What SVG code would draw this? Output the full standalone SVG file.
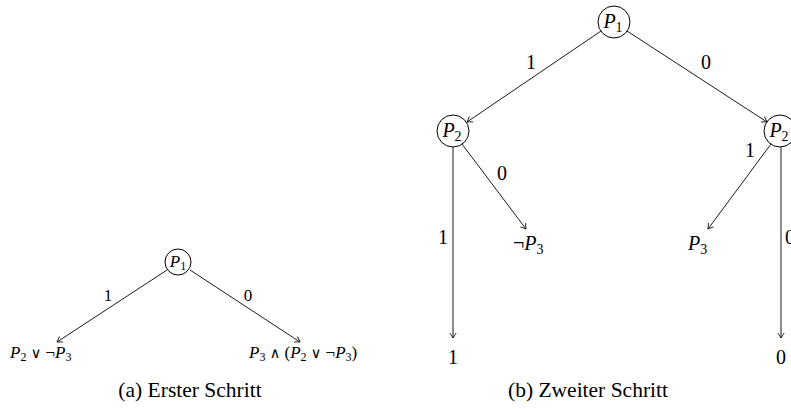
<svg xmlns="http://www.w3.org/2000/svg" width="791" height="409" viewBox="0 0 791 409">
<style>
.n{fill:#fff;stroke:#000;stroke-width:1}
.e{stroke:#000;stroke-width:0.9;fill:none;marker-end:url(#ah)}
text{font-family:"Liberation Serif","DejaVu Serif","Times New Roman",serif;fill:#000}
.m{font-style:italic}
.a{font-size:17px}
.b{font-size:20px}
.sa{font-size:12px}
.sb{font-size:14px}
.o{font-family:"DejaVu Serif",serif;font-weight:normal;font-size:0.85em}
.c{font-size:21.5px}
</style>
<defs>
<marker id="ah" viewBox="-6 -4 7 8" refX="0" refY="0" markerWidth="7" markerHeight="8" orient="auto" markerUnits="userSpaceOnUse">
<path d="M-5,-3.2 Q-1.5,-0.8 0,0 Q-1.5,0.8 -5,3.2" fill="none" stroke="#000" stroke-width="0.8"/>
</marker>
</defs>
<rect width="791" height="409" fill="#fff"/>
<g id="connectors">
<line class="e" x1="167" y1="270" x2="57" y2="342"/>
<line class="e" x1="190" y1="270" x2="300" y2="342"/>
<line class="e" x1="601" y1="31" x2="467" y2="122"/>
<line class="e" x1="627" y1="31" x2="767" y2="122"/>
<line class="e" x1="453" y1="147" x2="453" y2="338"/>
<line class="e" x1="462" y1="144" x2="526" y2="229"/>
<line class="e" x1="771" y1="144" x2="708" y2="229"/>
<line class="e" x1="781" y1="147" x2="781" y2="338"/>
</g>
<g id="edge-labels" text-anchor="middle">
<text x="108" y="301" class="a">1</text>
<text x="248" y="301" class="a">0</text>
<text x="531" y="69" class="b">1</text>
<text x="706" y="69" class="b">0</text>
<text x="443" y="244" class="b">1</text>
<text x="502" y="180" class="b">0</text>
<text x="750" y="157" class="b">1</text>
<text x="785" y="244" class="b" text-anchor="start">0</text>
</g>
<g id="a-P1"><circle class="n" cx="178" cy="262" r="13"/><text x="178" y="267" class="a" text-anchor="middle"><tspan class="m">P</tspan><tspan dy="3" class="sa">1</tspan></text></g>
<g id="a-left"><text x="10" y="358" class="a"><tspan class="m">P</tspan><tspan dy="3" class="sa">2</tspan><tspan dy="-3"> </tspan><tspan class="o">∨</tspan> ¬<tspan class="m">P</tspan><tspan dy="3" class="sa">3</tspan></text></g>
<g id="a-right"><text x="249" y="358" class="a"><tspan class="m">P</tspan><tspan dy="3" class="sa">3</tspan><tspan dy="-3"> </tspan><tspan class="o">∧</tspan> (<tspan class="m">P</tspan><tspan dy="3" class="sa">2</tspan><tspan dy="-3"> </tspan><tspan class="o">∨</tspan> ¬<tspan class="m">P</tspan><tspan dy="3" class="sa">3</tspan><tspan dy="-3">)</tspan></text></g>
<g id="a-caption"><text x="190" y="397" class="c" text-anchor="middle">(a) Erster Schritt</text></g>
<g id="b-P1"><circle class="n" cx="614" cy="22" r="16"/><text x="613" y="28" class="b" text-anchor="middle"><tspan class="m">P</tspan><tspan dy="4" class="sb">1</tspan></text></g>
<g id="b-P2-left"><circle class="n" cx="453" cy="131" r="16"/><text x="452" y="137" class="b" text-anchor="middle"><tspan class="m">P</tspan><tspan dy="4" class="sb">2</tspan></text></g>
<g id="b-P2-right"><circle class="n" cx="780" cy="131" r="16"/><text x="779" y="137" class="b" text-anchor="middle"><tspan class="m">P</tspan><tspan dy="4" class="sb">2</tspan></text></g>
<g id="b-notP3"><text x="513" y="250" class="b">¬<tspan class="m">P</tspan><tspan dy="4" class="sb">3</tspan></text></g>
<g id="b-P3"><text x="688" y="250" class="b"><tspan class="m">P</tspan><tspan dy="4" class="sb">3</tspan></text></g>
<g id="b-leaf1"><text x="453" y="364" class="b" text-anchor="middle">1</text></g>
<g id="b-leaf0"><text x="781" y="364" class="b" text-anchor="middle">0</text></g>
<g id="b-caption"><text x="588" y="397" class="c" text-anchor="middle">(b) Zweiter Schritt</text></g>
</svg>
